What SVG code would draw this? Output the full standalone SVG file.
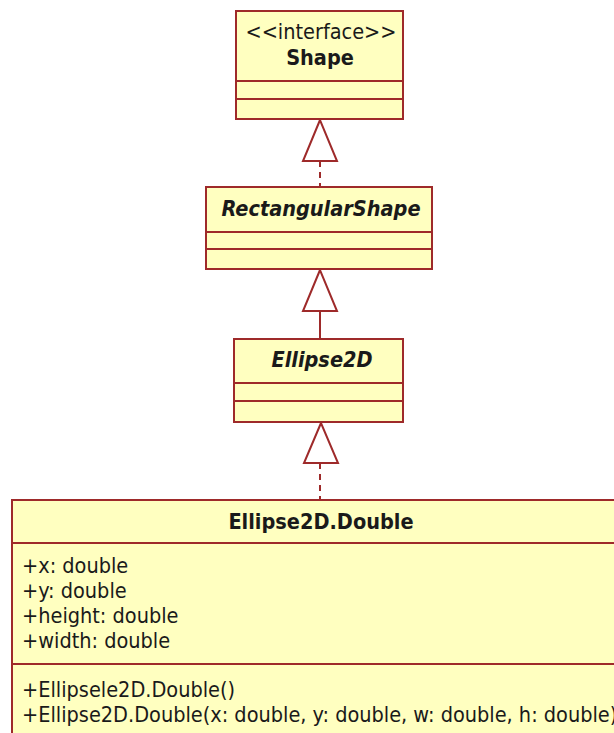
<svg xmlns="http://www.w3.org/2000/svg" width="614" height="733" viewBox="0 0 614 733">
  <style>
    .box { fill: #ffffc0; stroke: #9e2a2a; stroke-width: 2; }
    .sep { stroke: #9e2a2a; stroke-width: 2; }
    .t { font-family: "DejaVu Sans Condensed", "DejaVu Sans", sans-serif; font-size: 21.5px; fill: #1a1a1a; }
    .name { font-weight: bold; text-anchor: middle; }
    .abs { font-style: italic; }
    .stereo { text-anchor: middle; }
    .edge { stroke: #9e2a2a; stroke-width: 2; fill: none; }
    .dash { stroke-dasharray: 6 5; }
    .head { fill: #ffffff; stroke: #9e2a2a; stroke-width: 2; }
  </style>
  <rect width="614" height="733" fill="#ffffff"/>

  <!-- generalization / realization connectors -->
  <g id="connectors">
    <line class="edge dash" x1="320" y1="161" x2="320" y2="187"/>
    <polygon class="head" points="320,120 303,161 337,161"/>
    <line class="edge" x1="320" y1="311" x2="320" y2="339"/>
    <polygon class="head" points="320,270 303,311 337,311"/>
    <line class="edge dash" x1="320" y1="463" x2="320" y2="500"/>
    <polygon class="head" points="321,423 304,463 338,463"/>
  </g>

  <g id="Shape">
    <rect class="box" x="236" y="11" width="167" height="108"/>
    <line class="sep" x1="236" y1="81" x2="403" y2="81"/>
    <line class="sep" x1="236" y1="99" x2="403" y2="99"/>
    <text class="t stereo" x="321" y="39">&lt;&lt;interface&gt;&gt;</text>
    <text class="t name" x="320" y="65">Shape</text>
  </g>

  <g id="RectangularShape">
    <rect class="box" x="206" y="187" width="226" height="82"/>
    <line class="sep" x1="206" y1="232" x2="432" y2="232"/>
    <line class="sep" x1="206" y1="249" x2="432" y2="249"/>
    <text class="t name abs" x="321" y="216">RectangularShape</text>
  </g>

  <g id="Ellipse2D">
    <rect class="box" x="234" y="339" width="169" height="83"/>
    <line class="sep" x1="234" y1="383" x2="403" y2="383"/>
    <line class="sep" x1="234" y1="401" x2="403" y2="401"/>
    <text class="t name abs" x="322" y="367">Ellipse2D</text>
  </g>

  <g id="Ellipse2D.Double">
    <rect class="box" x="12" y="500" width="640" height="260"/>
    <line class="sep" x1="12" y1="543" x2="652" y2="543"/>
    <line class="sep" x1="12" y1="664" x2="652" y2="664"/>
    <text class="t name" x="321" y="529">Ellipse2D.Double</text>
    <text class="t" x="22" y="573">+x: double</text>
    <text class="t" x="22" y="598">+y: double</text>
    <text class="t" x="22" y="623">+height: double</text>
    <text class="t" x="22" y="648">+width: double</text>
    <text class="t" x="22" y="697">+Ellipsele2D.Double()</text>
    <text class="t" x="22" y="722">+Ellipse2D.Double(x: double, y: double, w: double, h: double)</text>
  </g>
</svg>
